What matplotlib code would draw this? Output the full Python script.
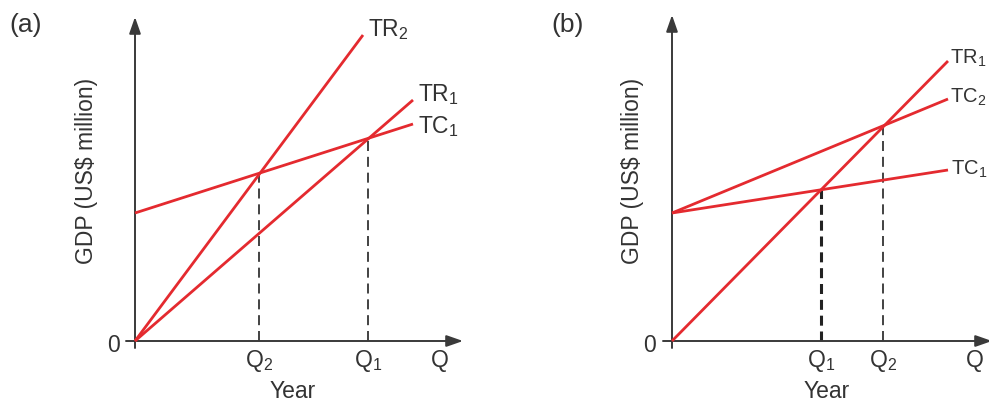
import matplotlib
matplotlib.use("Agg")
import matplotlib.pyplot as plt

plt.rcParams['font.family'] = ['Liberation Sans', 'DejaVu Sans']
plt.rcParams['mathtext.default'] = 'regular'

# ---- Panel (a) data (abstract units) ----
a_tr2_x = [0, 22.8]
a_tr2_y = [0, 30.6]
a_tr1_x = [0, 27.8]
a_tr1_y = [0, 24.1]
a_tc1_x = [0, 27.8]
a_tc1_y = [12.8, 21.7]
a_q_pos = [12.4, 23.3]
a_q_top = [16.8, 20.2]
a_q_labels = ['Q$_2$', 'Q$_1$']
a_line_labels = ['TR$_2$', 'TR$_1$', 'TC$_1$']

# ---- Panel (b) data ----
b_tr1_x = [0, 27.6]
b_tr1_y = [0, 28.0]
b_tc2_x = [0, 27.6]
b_tc2_y = [12.8, 24.2]
b_tc1_x = [0, 27.6]
b_tc1_y = [12.8, 17.1]
b_q_pos = [14.9, 21.1]
b_q_top = [15.1, 21.5]
b_q_labels = ['Q$_1$', 'Q$_2$']
b_line_labels = ['TR$_1$', 'TC$_2$', 'TC$_1$']

W, H = 989, 403
RED = '#e42a2f'
AX = '#3a3a3a'
TXT = '#333333'
FS = 16.5

fig = plt.figure(figsize=(W / 100, H / 100), dpi=100)


def make_axes(ox, oy, xmax, ymax):
    # origin at pixel (ox, oy from top), 10 px per unit
    ax = fig.add_axes([ox / W, (H - oy) / H, xmax * 10 / W, ymax * 10 / H])
    ax.set_xlim(0, xmax)
    ax.set_ylim(0, ymax)
    ax.axis('off')
    ax.annotate('', xy=(xmax, 0), xytext=(-0.9, 0), xycoords='data',
                arrowprops=dict(arrowstyle='-|>,head_length=1.0,head_width=0.35',
                                color=AX, lw=1.4, shrinkA=0, shrinkB=0),
                annotation_clip=False)
    ax.annotate('', xy=(0, ymax), xytext=(0, -0.7), xycoords='data',
                arrowprops=dict(arrowstyle='-|>,head_length=1.0,head_width=0.35',
                                color=AX, lw=1.4, shrinkA=0, shrinkB=0),
                annotation_clip=False)
    return ax


# ---------- Panel (a) ----------
axa = make_axes(135, 341, 32.8, 32.4)
for xs, ys in [(a_tr2_x, a_tr2_y), (a_tr1_x, a_tr1_y), (a_tc1_x, a_tc1_y)]:
    axa.plot(xs, ys, color=RED, lw=2.0, solid_capstyle='butt', clip_on=False, zorder=3)
for q, top in zip(a_q_pos, a_q_top):
    axa.plot([q, q], [0, top], color='#222222', lw=1.2, ls=(0, (6, 3.5)), zorder=2)
for q, lab in zip(a_q_pos, a_q_labels):
    axa.text(q, -2.0, lab, ha='center', va='center', fontsize=FS, color=TXT)
axa.text(30.5, -2.0, 'Q', ha='center', va='center', fontsize=FS, color=TXT)
axa.text(15.8, -5.1, 'Year', ha='center', va='center', fontsize=FS, color=TXT)
axa.text(-2.2, -0.5, '0', ha='center', va='center', fontsize=FS, color=TXT)
axa.text(-4.8, 17.0, 'GDP (US$ million)', rotation=90, ha='center', va='center',
         fontsize=FS, color=TXT)
axa.text(a_tr2_x[1] + 0.5, a_tr2_y[1] + 0.5, a_line_labels[0], ha='left', va='center',
         fontsize=FS, color=TXT)
axa.text(a_tr1_x[1] + 0.5, a_tr1_y[1] + 0.5, a_line_labels[1], ha='left', va='center',
         fontsize=FS, color=TXT)
axa.text(a_tc1_x[1] + 0.5, a_tc1_y[1] - 0.3, a_line_labels[2], ha='left', va='center',
         fontsize=FS, color=TXT)
fig.text(26 / W, 1 - 25 / H, '(a)', ha='center', va='center', fontsize=19, color=TXT)

# ---------- Panel (b) ----------
axb = make_axes(672, 341, 32.0, 32.6)
for xs, ys in [(b_tr1_x, b_tr1_y), (b_tc2_x, b_tc2_y), (b_tc1_x, b_tc1_y)]:
    axb.plot(xs, ys, color=RED, lw=2.0, solid_capstyle='butt', clip_on=False, zorder=3)
for q, top, lw in zip(b_q_pos, b_q_top, [2.2, 1.2]):
    axb.plot([q, q], [0, top], color='#222222', lw=lw, ls=(0, (6 * 1.2 / lw, 3.5 * 1.2 / lw)),
             zorder=2)
for q, lab in zip(b_q_pos, b_q_labels):
    axb.text(q, -2.0, lab, ha='center', va='center', fontsize=FS, color=TXT)
axb.text(30.3, -2.0, 'Q', ha='center', va='center', fontsize=FS, color=TXT)
axb.text(15.5, -5.1, 'Year', ha='center', va='center', fontsize=FS, color=TXT)
axb.text(-2.2, -0.5, '0', ha='center', va='center', fontsize=FS, color=TXT)
axb.text(-4.0, 17.0, 'GDP (US$ million)', rotation=90, ha='center', va='center',
         fontsize=FS, color=TXT)
RFS = 14.5
axb.text(b_tr1_x[1] + 0.2, b_tr1_y[1] + 0.3, b_line_labels[0], ha='left', va='center',
         fontsize=RFS, color=TXT, clip_on=False)
axb.text(b_tc2_x[1] + 0.2, b_tc2_y[1] + 0.2, b_line_labels[1], ha='left', va='center',
         fontsize=RFS, color=TXT, clip_on=False)
axb.text(b_tc1_x[1] + 0.3, b_tc1_y[1] + 0.1, b_line_labels[2], ha='left', va='center',
         fontsize=RFS, color=TXT, clip_on=False)
fig.text(568 / W, 1 - 25 / H, '(b)', ha='center', va='center', fontsize=19, color=TXT)

fig.savefig('out.png', dpi=100)
